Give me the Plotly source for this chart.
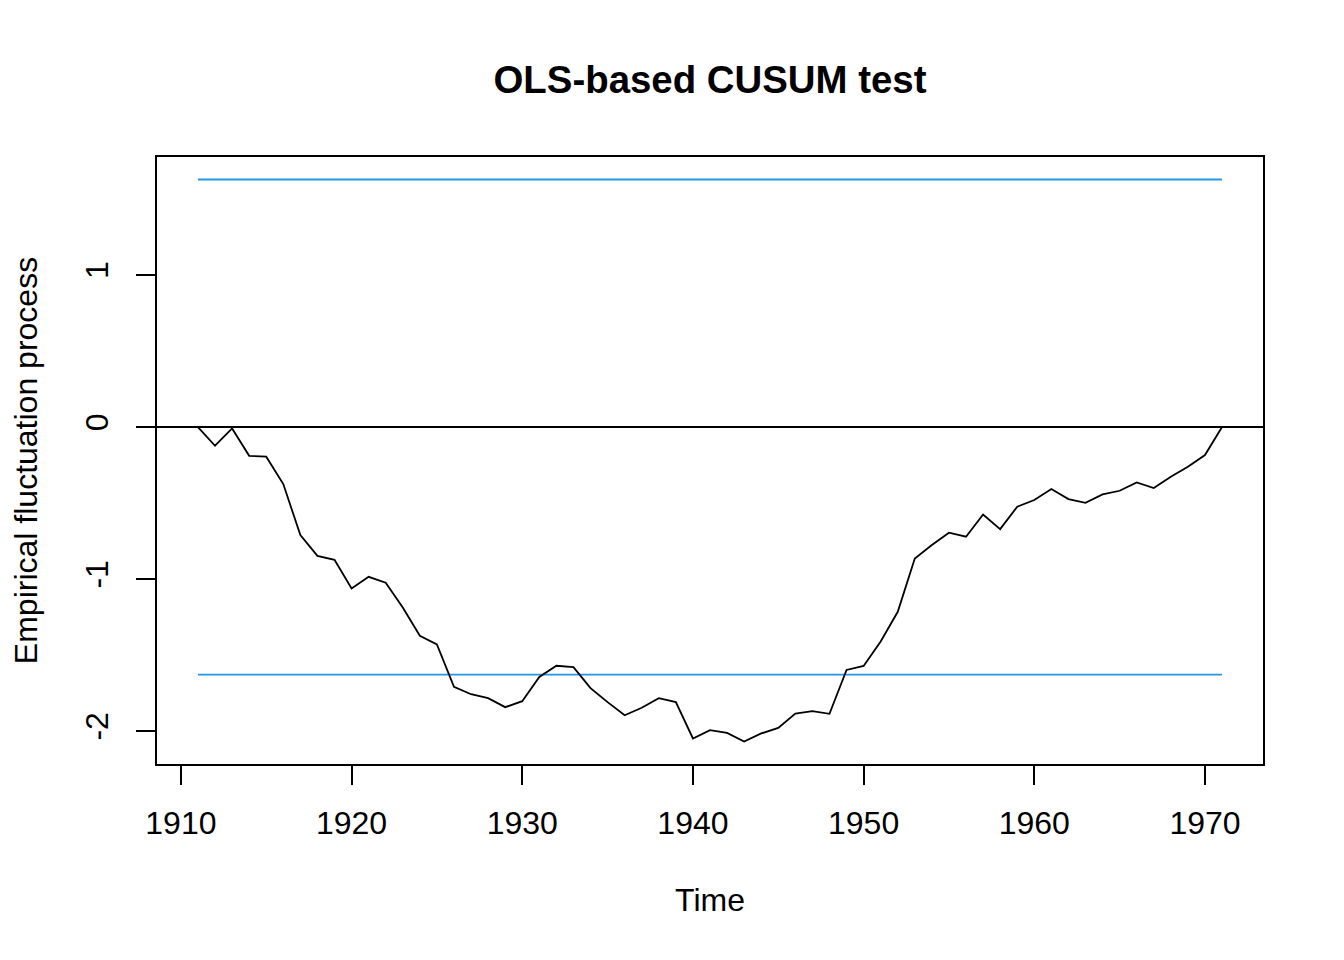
import plotly.graph_objects as go

# OLS-based CUSUM process, yearly 1911-1971
years = list(range(1911, 1972))
cusum = [0.0, -0.123, -0.009, -0.189, -0.195, -0.375, -0.711, -0.847, -0.873, -1.061,
         -0.985, -1.024, -1.187, -1.373, -1.430, -1.708, -1.757, -1.783, -1.842, -1.803,
         -1.643, -1.570, -1.579, -1.717, -1.809, -1.895, -1.846, -1.783, -1.809, -2.048,
         -1.993, -2.011, -2.068, -2.015, -1.978, -1.884, -1.868, -1.886, -1.597, -1.571,
         -1.410, -1.215, -0.864, -0.776, -0.695, -0.721, -0.575, -0.671, -0.524, -0.480,
         -0.408, -0.474, -0.498, -0.443, -0.419, -0.364, -0.401, -0.327, -0.261, -0.184,
         0.0]
boundary = 1.628

x_ticks = [1910, 1920, 1930, 1940, 1950, 1960, 1970]
y_ticks = [-2, -1, 0, 1]
y_tick_labels = ["-2", "-1", "0", "1"]

# R style axis extension: 4% each side
def ext(lo, hi):
    d = (hi - lo) * 0.04
    return [lo - d, hi + d]

xr = ext(min(years), max(years))
yr = ext(min(min(cusum), -boundary), max(max(cusum), boundary))

FONT = "Liberation Sans, Arial, Helvetica, sans-serif"
W = 1.8

fig = go.Figure()
fig.add_trace(go.Scatter(x=years, y=[boundary] * len(years), mode="lines",
                         line=dict(color="#2297E6", width=W), hoverinfo="skip"))
fig.add_trace(go.Scatter(x=years, y=[-boundary] * len(years), mode="lines",
                         line=dict(color="#2297E6", width=W), hoverinfo="skip"))
fig.add_trace(go.Scatter(x=years, y=cusum, mode="lines",
                         line=dict(color="black", width=W)))

# page body has an 8px margin, so the margins are shifted by it
fig.update_layout(
    width=1344, height=960,
    margin=dict(l=149, r=89, t=149, b=204),
    plot_bgcolor="white", paper_bgcolor="white",
    showlegend=False,
    font=dict(family=FONT, size=32, color="black"),
    title=dict(text="<b>OLS-based CUSUM test</b>", x=0.5, xref="paper",
               y=1 - 72 / 960, yref="container", yanchor="middle",
               font=dict(size=38.4, family=FONT)),
)
fig.update_xaxes(
    range=xr, tickvals=x_ticks, showgrid=False, zeroline=False,
    showline=True, mirror=True, linecolor="black", linewidth=W,
    ticks="outside", ticklen=19, tickwidth=W, tickcolor="black",
    ticklabelstandoff=11,
    title=dict(text="Time", standoff=48, font=dict(size=32)),
)
fig.update_yaxes(
    range=yr, tickvals=y_ticks, ticktext=y_tick_labels, showgrid=False,
    zeroline=True, zerolinecolor="black", zerolinewidth=W,
    showline=True, mirror=True, linecolor="black", linewidth=W,
    ticks="outside", ticklen=19, tickwidth=W, tickcolor="black",
    tickangle=-90, ticklabelstandoff=15,
    title=dict(text="Empirical fluctuation process", standoff=36, font=dict(size=32)),
)

fig.write_html("out.html")
